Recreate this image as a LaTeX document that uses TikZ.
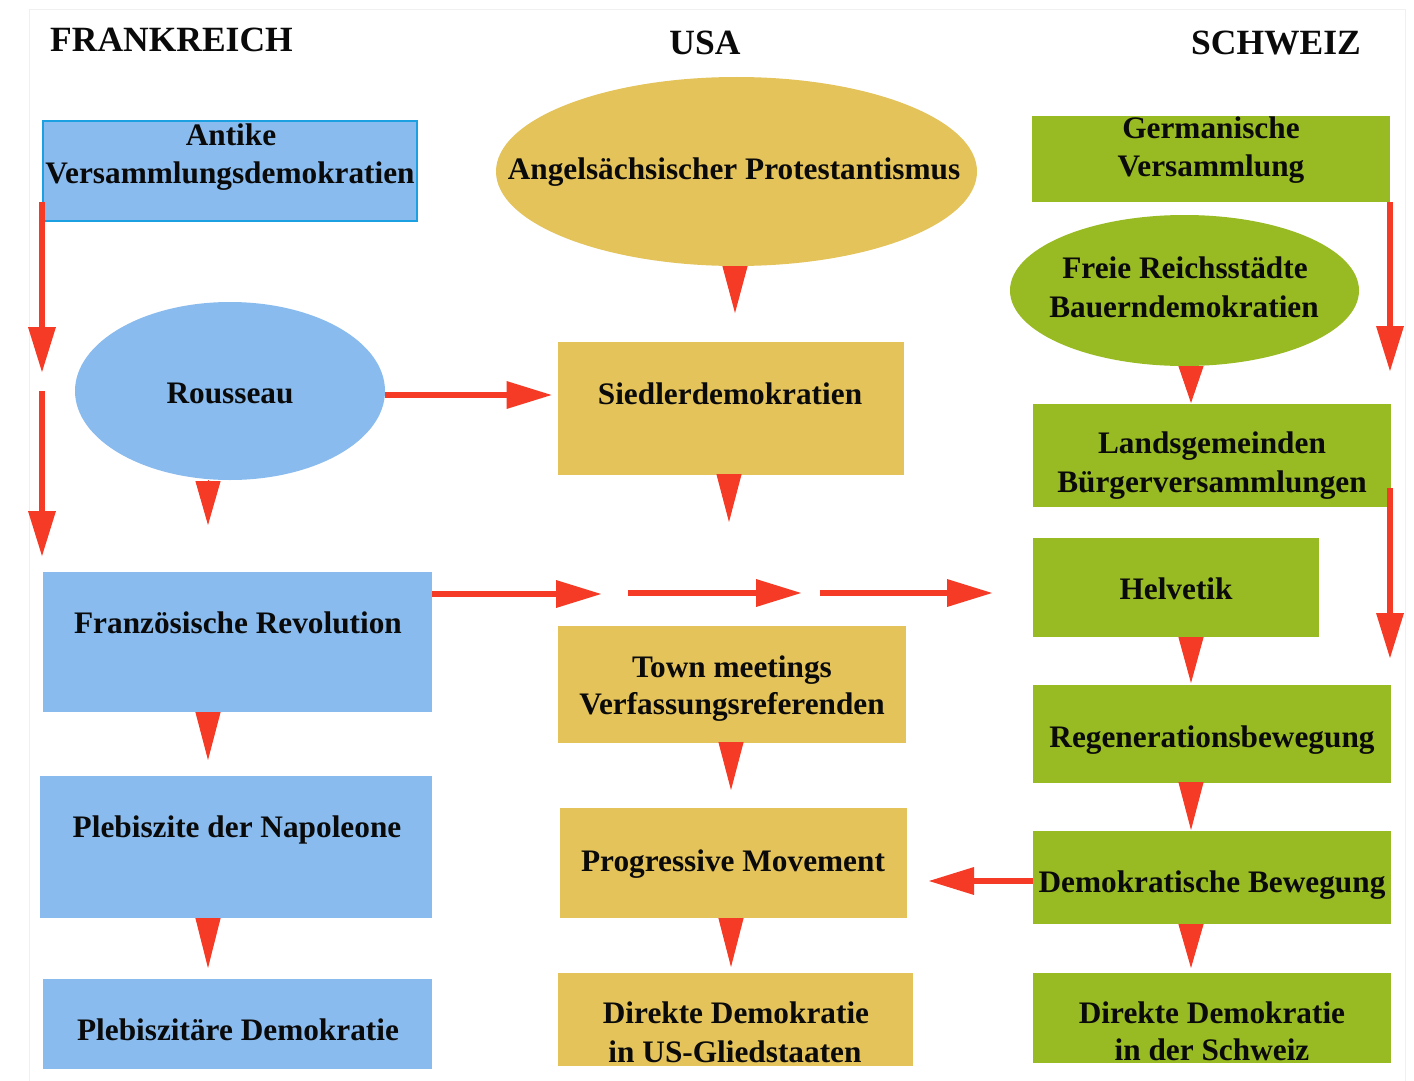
\documentclass[tikz,border=0pt]{standalone}
\usepackage{fontspec}
\setmainfont{Liberation Serif}
\usetikzlibrary{arrows.meta,shapes.geometric,calc}
\definecolor{frblue}{HTML}{89BBEE}
\definecolor{frline}{HTML}{1BA1E2}
\definecolor{usgold}{HTML}{E4C35B}
\definecolor{chgreen}{HTML}{98BA22}
\definecolor{arrred}{HTML}{F53A25}
\definecolor{ink}{HTML}{0A0A0A}
\definecolor{frame}{HTML}{F0F0F0}

\begin{document}
\begin{tikzpicture}[x=1pt,y=-1pt,
  area/.style={inner sep=0pt, outer sep=0pt, draw=none},
  frbox/.style={area, rectangle, fill=frblue},
  usbox/.style={area, rectangle, fill=usgold},
  chbox/.style={area, rectangle, fill=chgreen},
  oval/.style={area, ellipse},
  lbl/.style={inner sep=0pt, anchor=base, text=ink, font=\fontsize{31.3}{38}\selectfont\bfseries},
  colhead/.style={inner sep=0pt, anchor=base, text=ink, font=\fontsize{35.5}{40}\selectfont\bfseries},
  flow/.style={draw=arrred, line width=6.5pt, -{Triangle[length=46pt,width=26pt]}},
  wedge/.style={draw=arrred, line width=1pt, -{Triangle[length=#1,width=25pt]}},
]
% page
\fill[white] (0,0) rectangle (1414,1081);
\useasboundingbox (0,0) rectangle (1414,1081);
\draw[frame, line width=1pt] (29,1081) -- (29,10) -- (1405,10) -- (1405,1081);

% column headings
\node[colhead, anchor=base west] (hFR) at (50,52) {FRANKREICH};
\node[colhead] (hUS) at (705,55) {USA};
\node[colhead] (hCH) at (1276,55) {SCHWEIZ};

% ---- Frankreich
\node[frbox, draw=frline, line width=2pt, minimum width=374pt, minimum height=100pt] (ant) at (230,171) {};
\node[oval, fill=frblue, minimum width=310pt, minimum height=178pt] (rou) at (230,391) {};
\node[frbox, minimum width=389pt, minimum height=140pt] (frz) at (237.5,642) {};
\node[frbox, minimum width=392pt, minimum height=142pt] (nap) at (236,847) {};
\node[frbox, minimum width=389pt, minimum height=90pt] (pleb) at (237.5,1024) {};

\node[lbl] (antA) at (231,145) {Antike};
\node[lbl] (antB) at (230,183) {Versammlungsdemokratien};
\node[lbl] (rouT) at (230,403) {Rousseau};
\node[lbl] (frzT) at (238,633) {Französische Revolution};
\node[lbl] (napT) at (237,837) {Plebiszite der Napoleone};
\node[lbl] (plebT) at (238,1040) {Plebiszitäre Demokratie};

% ---- USA
\node[oval, fill=usgold, minimum width=481pt, minimum height=189pt] (ang) at (736.5,171.5) {};
\node[usbox, minimum width=346pt, minimum height=133pt] (sied) at (730.5,408.5) {};
\node[usbox, minimum width=348pt, minimum height=117pt] (town) at (732,684.5) {};
\node[usbox, minimum width=347pt, minimum height=110pt] (prog) at (733.5,863) {};
\node[usbox, minimum width=355pt, minimum height=93pt] (dirus) at (735.5,1019.5) {};

\node[lbl] (angT) at (734,179) {Angelsächsischer Protestantismus};
\node[lbl] (siedT) at (730,404) {Siedlerdemokratien};
\node[lbl] (townA) at (732,677) {Town meetings};
\node[lbl] (townB) at (732,714) {Verfassungsreferenden};
\node[lbl] (progT) at (733,871) {Progressive Movement};
\node[lbl] (dirusA) at (736,1023) {Direkte Demokratie};
\node[lbl] (dirusB) at (735,1062) {in US-Gliedstaaten};

% ---- Schweiz
\node[chbox, minimum width=358pt, minimum height=86pt] (germ) at (1211,159) {};
\node[oval, fill=chgreen, minimum width=349pt, minimum height=151pt] (frei) at (1184.5,290.5) {};
\node[chbox, minimum width=358pt, minimum height=103pt] (lands) at (1212,455.5) {};
\node[chbox, minimum width=286pt, minimum height=99pt] (helv) at (1176,587.5) {};
\node[chbox, minimum width=358pt, minimum height=98pt] (regen) at (1212,734) {};
\node[chbox, minimum width=358pt, minimum height=93pt] (demb) at (1212,877.5) {};
\node[chbox, minimum width=358pt, minimum height=90pt] (dirch) at (1212,1018) {};

\node[lbl] (germA) at (1211,138) {Germanische};
\node[lbl] (germB) at (1211,176) {Versammlung};
\node[lbl] (freiA) at (1185,278) {Freie Reichsstädte};
\node[lbl] (freiB) at (1184,317) {Bauerndemokratien};
\node[lbl] (landsA) at (1212,453) {Landsgemeinden};
\node[lbl] (landsB) at (1212,492) {Bürgerversammlungen};
\node[lbl] (helvT) at (1176,599) {Helvetik};
\node[lbl] (regenT) at (1212,747) {Regenerationsbewegung};
\node[lbl] (dembT) at (1212,892) {Demokratische Bewegung};
\node[lbl] (dirchA) at (1212,1023) {Direkte Demokratie};
\node[lbl] (dirchB) at (1212,1060) {in der Schweiz};

% ---- reference lines for the connectors
\coordinate (cF) at (208,0);
\coordinate (cU1) at (735,0);
\coordinate (cU2) at (729,0);
\coordinate (cU3) at (731,0);
\coordinate (cC) at (1191,0);
\coordinate (lcol) at (42,0);
\coordinate (rcol) at (1390,0);
\coordinate (lgap1) at (42,373);
\coordinate (lgap2) at (42,391);
\coordinate (rgap1) at (1390,372);
\coordinate (rgap2) at (1390,659);
\coordinate (rrow) at (0,395);
\coordinate (hrow) at (0,594);
\coordinate (hA) at (602,594);
\coordinate (hB0) at (628,593);
\coordinate (hB) at (802,593);
\coordinate (hC0) at (820,593);
\coordinate (drow) at (0,881);

% ---- short wedges between stacked items
\draw[wedge=44pt, shorten >=47pt] (rou.south -| cF) -- (frz.north -| cF);
\draw[wedge=48pt, shorten >=16pt] (frz.south -| cF) -- (nap.north -| cF);
\draw[wedge=50pt, shorten >=11pt] (nap.south -| cF) -- (pleb.north -| cF);
\draw[wedge=47pt, shorten >=29pt] (ang.south -| cU1) -- (sied.north -| cU1);
\draw[wedge=48pt, shorten >=104pt] (sied.south -| cU2) -- (town.north -| cU2);
\draw[wedge=48pt, shorten >=18pt] (town.south -| cU3) -- (prog.north -| cU3);
\draw[wedge=49pt, shorten >=6pt] (prog.south -| cU3) -- (dirus.north -| cU3);
\draw[wedge=37pt, shorten >=1pt] (frei.south -| cC) -- (lands.north -| cC);
\draw[wedge=46pt, shorten >=2pt] (helv.south -| cC) -- (regen.north -| cC);
\draw[wedge=48pt, shorten >=1pt] (regen.south -| cC) -- (demb.north -| cC);
\draw[wedge=44pt, shorten >=5pt] (demb.south -| cC) -- (dirch.north -| cC);

% ---- long arrows
\draw[flow] ($(ant.south -| lcol)+(0,-19)$) -- (lgap1);
\draw[flow, shorten >=15pt] (lgap2) -- (frz.north -| lcol);
\draw[flow, shorten >=5pt] (rou.east |- rrow) -- (sied.west |- rrow);
\draw[flow] (frz.east |- hrow) -- (hA);
\draw[flow] (hB0) -- (hB);
\draw[flow, shorten >=40pt] (hC0) -- (helv.west |- hC0);
\draw[flow, shorten >=21pt] (demb.west |- drow) -- (prog.east |- drow);
\draw[flow] (germ.south -| rcol) -- (rgap1);
\draw[flow] ($(lands.south -| rcol)+(0,-19)$) -- (rgap2);
\end{tikzpicture}
\end{document}
